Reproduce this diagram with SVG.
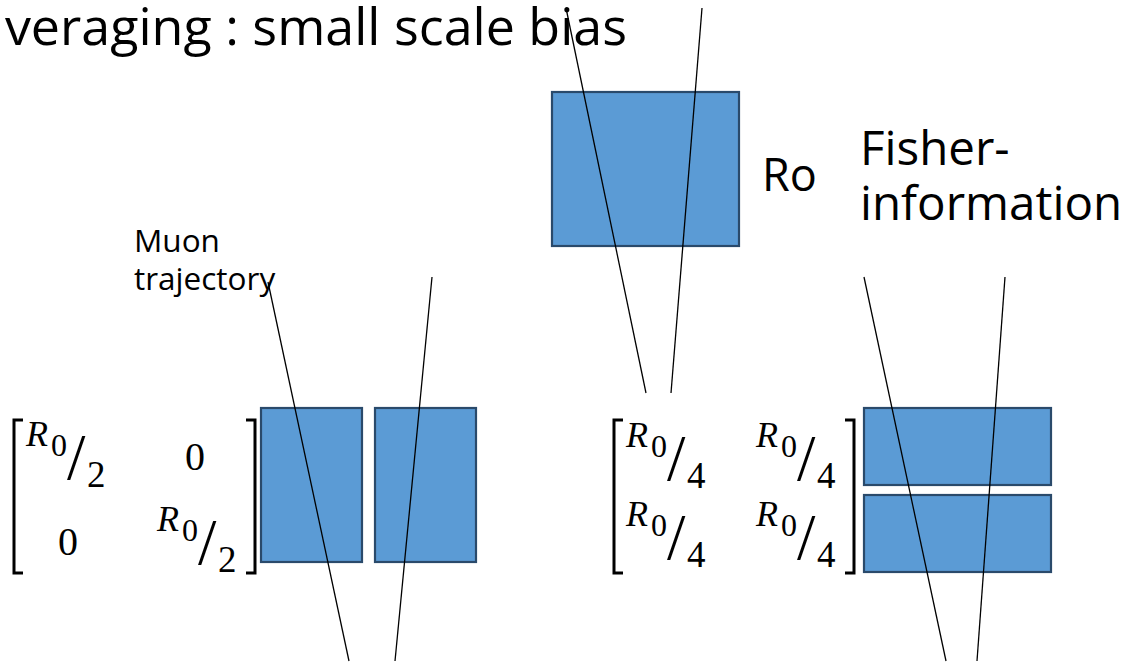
<svg xmlns="http://www.w3.org/2000/svg" width="1130" height="663" viewBox="0 0 1130 663">
<style>
.box{fill:#5B9BD5;stroke:#2A4A6B;stroke-width:2.2}
.lbl{font-family:"Open Sans","Noto Sans",sans-serif;fill:#000}
.ln{stroke:#000;stroke-width:1.3;fill:none}
.br{stroke:#000;stroke-width:3;fill:none}
.m{font-family:"Liberation Serif",serif;fill:#000}
.R{font-style:italic;font-size:36px}
.s{font-size:32px}
.sl{font-size:66px}
.d{font-size:37px}
.z{font-size:40px}
</style>
<defs>
<g id="r2"><text class="m R" x="-1" y="0">R</text><text class="m s" x="24" y="10">0</text><text class="m sl" x="40" y="33">/</text><text class="m d" x="60" y="41">2</text></g>
<g id="r4"><text class="m R" x="-1" y="0">R</text><text class="m s" x="24" y="10">0</text><text class="m sl" x="40" y="33">/</text><text class="m d" x="60" y="41">4</text></g>
</defs>
<rect width="1130" height="663" fill="#fff"/>
<g id="title"><text class="lbl" x="627" y="45" font-size="52" text-anchor="end">veraging : small scale bias</text></g>
<g id="top-box"><rect class="box" x="552" y="92" width="187" height="154"/></g>
<g id="ro"><text class="lbl" x="762" y="191" font-size="45">Ro</text></g>
<g id="fisher"><text class="lbl" x="860" y="165" font-size="47.5">Fisher-</text><text class="lbl" x="860" y="220" font-size="47.5">information</text></g>
<g id="muon"><text class="lbl" x="134" y="252" font-size="31.5">Muon</text><text class="lbl" x="134" y="290" font-size="31.5">trajectory</text></g>
<g id="left-matrix">
<path class="br" d="M23,420 H14 V573 H23"/>
<path class="br" d="M246,420 H255 V573 H246"/>
<use href="#r2" x="27" y="446"/>
<text class="m z" x="185" y="470">0</text>
<text class="m z" x="58" y="555">0</text>
<use href="#r2" x="158" y="531"/>
</g>
<g id="left-box-1"><rect class="box" x="261" y="408" width="101" height="154"/></g>
<g id="left-box-2"><rect class="box" x="375" y="408" width="101" height="154"/></g>
<g id="right-matrix">
<path class="br" d="M623,420 H614 V573 H623"/>
<path class="br" d="M845,420 H854 V573 H845"/>
<use href="#r4" x="627" y="447"/>
<use href="#r4" x="757" y="447"/>
<use href="#r4" x="627" y="526"/>
<use href="#r4" x="757" y="526"/>
</g>
<g id="right-box-1"><rect class="box" x="864" y="408" width="187" height="77"/></g>
<g id="right-box-2"><rect class="box" x="864" y="495" width="187" height="77"/></g>
<g id="connectors">
<line class="ln" x1="566" y1="8" x2="646" y2="393"/>
<line class="ln" x1="702" y1="8" x2="671" y2="393"/>
<line class="ln" x1="268" y1="282" x2="349" y2="661"/>
<line class="ln" x1="432" y1="277" x2="395" y2="661"/>
<line class="ln" x1="864" y1="277" x2="946" y2="661"/>
<line class="ln" x1="1005" y1="277" x2="977" y2="661"/>
</g>
</svg>
